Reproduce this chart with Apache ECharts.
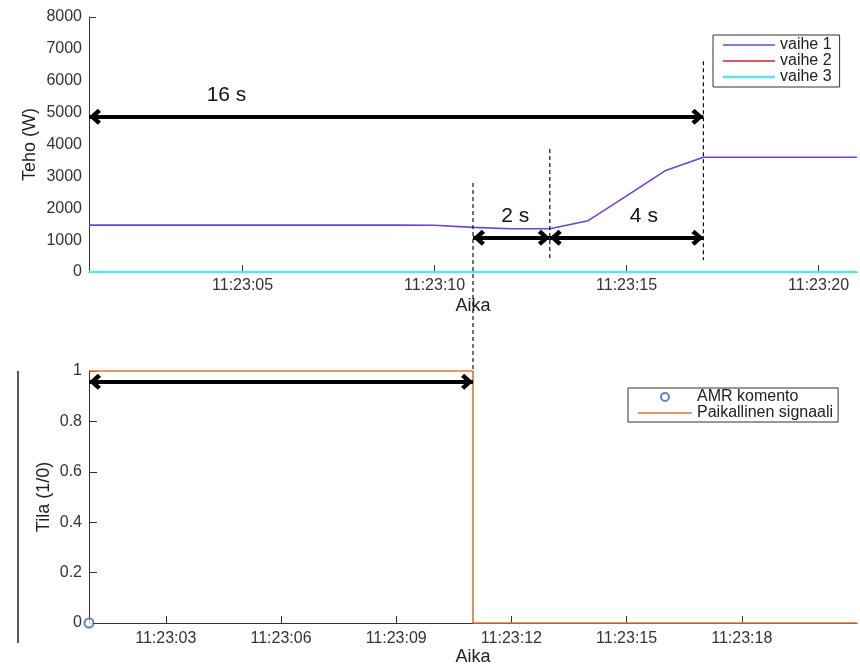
<!DOCTYPE html>
<html>
<head>
<meta charset="utf-8">
<script src="https://cdn.jsdelivr.net/npm/echarts@6/dist/echarts.min.js"></script>
<style>html,body{margin:0;padding:0;background:#fff}#c{width:860px;height:665px}</style>
</head>
<body>
<div id="c"></div>
<script>
// ---- data (time in seconds after 11:23:00) ----
const timeTop = [1,2,3,4,5,6,7,8,9,10,11,12,13,14,15,16,17,18,19,20,21];
const vaihe1 = [1470,1470,1470,1470,1470,1470,1470,1470,1470,1465,1400,1355,1355,1610,2390,3175,3600,3600,3600,3600,3600];
const vaihe2 = [0,0,0,0,0,0,0,0,0,0,0,0,0,0,0,0,0,0,0,0,0];
const vaihe3 = [0,0,0,0,0,0,0,0,0,0,0,0,0,0,0,0,0,0,0,0,0];
const topTickValues = [5,10,15,20];
const topTickLabels = ['11:23:05','11:23:10','11:23:15','11:23:20'];

const amrTime = [1];
const amrValue = [0];
const signalTime = [1,11,21];
const signalValue = [1,0,0];
const bottomTickValues = [3,6,9,12,15,18];
const bottomTickLabels = ['11:23:03','11:23:06','11:23:09','11:23:12','11:23:15','11:23:18'];

// annotations: [from t, to t, level]
const arrowsTop = [[1,17,4870],[11,13,1075],[13,17,1075]];
const arrowsBottom = [[1,11,0.957]];
// dashed markers: [t, from value, to value]
const dashedTop = [[11,2790,-3135],[13,3856,376],[17,6614,376]];
// text labels: [text, t, value]
const labelsTop = [['16 s',4.58,5549],['2 s',12.1,1755],['4 s',15.45,1755]];
const labelsBottom = [['10 s',3.56,1.044]];

const FONT = "'Liberation Sans', Arial, Helvetica, sans-serif";
const zip = (a,b) => a.map((v,i)=>[v,b[i]]);
const chevron = 'path://M5,0 L10,5.6 L8,7.6 L5,4 L2,7.6 L0,5.6 Z';
const arrowEnd = (t,v) => ({coord:[t,v], symbol:chevron, symbolSize:[16,12], symbolOffset:[0,6], symbolKeepAspect:false});
const arrowData = arr => arr.map(a => [arrowEnd(a[0],a[2]), arrowEnd(a[1],a[2])]);
const labelData = arr => arr.map(a => ({name:a[0], coord:[a[1],a[2]]}));
const lookup = (vals, labs) => v => { const i = vals.indexOf(Math.round(v)); return i >= 0 ? labs[i] : ''; };
const lineIcon = 'path://M0,0 L52,0 L52,1.5 L0,1.5 Z';
const thickIcon = 'path://M0,0 L52,0 L52,2.6 L0,2.6 Z';

const axisCol = '#333';
function xAxisCfg(gridIndex, ticks, labels, nameGap, margin) {
  return {
    type:'value', gridIndex, min:1, max:21,
    name:'Aika', nameLocation:'middle', nameGap, nameMoveOverlap:false,
    nameTextStyle:{fontFamily:FONT, fontSize:18, color:'#222'},
    axisLine:{show:true, lineStyle:{color:axisCol, width:1}},
    axisTick:{show:true, inside:true, length:7, customValues:ticks, lineStyle:{color:axisCol}},
    axisLabel:{customValues:ticks, formatter:lookup(ticks, labels), margin, fontFamily:FONT, fontSize:16, color:'#333'},
    splitLine:{show:false}
  };
}

const dashedSeries = dashedTop.map((d, i) => ({
  name:'dash' + i, type:'line', xAxisIndex:0, yAxisIndex:0,
  data:[[d[0], d[1]], [d[0], d[2]]],
  symbol:'none', silent:true, clip:false, z:4,
  lineStyle:{color:'#111', width:1.2, type:[4,3]}
}));

const chart = echarts.init(document.getElementById('c'));
chart.setOption({
  animation:false,
  backgroundColor:'#fff',
  grid:[
    {left:89, top:17, right:3, height:255, containLabel:false, outerBoundsMode:'none'},
    {left:89, top:371, right:3, height:252, containLabel:false, outerBoundsMode:'none'}
  ],
  legend:[
    {
      data:[{name:'vaihe 1', icon:lineIcon},{name:'vaihe 2', icon:lineIcon},{name:'vaihe 3', icon:thickIcon}],
      orient:'vertical', left:713, top:35,
      itemWidth:52, itemHeight:10, itemGap:0, padding:[2,8,2,10],
      borderColor:'#333', borderWidth:1, selectedMode:false,
      textStyle:{fontFamily:FONT, fontSize:16, color:'#222', lineHeight:16}
    },
    {
      data:[{name:'AMR komento', icon:'emptyCircle'},{name:'Paikallinen signaali', icon:lineIcon}],
      orient:'vertical', left:628, top:388,
      itemWidth:54, itemHeight:8, itemGap:0, padding:[1,5,1,10],
      borderColor:'#333', borderWidth:1, selectedMode:false,
      textStyle:{fontFamily:FONT, fontSize:16, color:'#222', lineHeight:16}
    }
  ],
  xAxis:[
    xAxisCfg(0, topTickValues, topTickLabels, 25, 6),
    xAxisCfg(1, bottomTickValues, bottomTickLabels, 25, 8)
  ],
  yAxis:[
    {
      type:'value', gridIndex:0, min:0, max:8000, interval:1000,
      name:'Teho (W)', nameLocation:'middle', nameGap:50, nameMoveOverlap:false,
      nameTextStyle:{fontFamily:FONT, fontSize:18, color:'#222'},
      axisLine:{show:true, lineStyle:{color:axisCol, width:1}},
      axisTick:{show:true, inside:true, length:7, customValues:[8000], lineStyle:{color:axisCol}},
      axisLabel:{margin:7, fontFamily:FONT, fontSize:16, color:'#333', formatter:v => String(v)},
      splitLine:{show:false}
    },
    {
      type:'value', gridIndex:1, min:0, max:1, interval:0.2,
      name:'Tila (1/0)', nameLocation:'middle', nameGap:36, nameMoveOverlap:false,
      nameTextStyle:{fontFamily:FONT, fontSize:18, color:'#222'},
      axisLine:{show:true, lineStyle:{color:axisCol, width:1}},
      axisTick:{show:true, inside:true, length:8, lineStyle:{color:axisCol}},
      axisLabel:{margin:7, fontFamily:FONT, fontSize:16, color:'#333'},
      splitLine:{show:false}
    }
  ],
  series:[
    {
      name:'vaihe 1', type:'line', xAxisIndex:0, yAxisIndex:0, data:zip(timeTop, vaihe1),
      symbol:'none', lineStyle:{color:'#7040d8', width:1.6}, itemStyle:{color:'#7040d8'}, clip:false,
      markLine:{
        silent:true, animation:false, label:{show:false},
        lineStyle:{color:'#000', width:4, type:'solid'},
        data:arrowData(arrowsTop)
      }
    },
    {
      name:'vaihe 2', type:'line', xAxisIndex:0, yAxisIndex:0, data:zip(timeTop, vaihe2),
      symbol:'none', lineStyle:{color:'#cc1f2f', width:1.6}, itemStyle:{color:'#cc1f2f'}, clip:false
    },
    {
      name:'vaihe 3', type:'line', xAxisIndex:0, yAxisIndex:0, data:zip(timeTop, vaihe3),
      symbol:'none', lineStyle:{color:'#5fe3e3', width:2.5}, itemStyle:{color:'#5fe3e3'}, clip:false,
      markPoint:{
        silent:true, animation:false, symbol:'circle', symbolSize:1,
        itemStyle:{color:'rgba(0,0,0,0)'},
        label:{show:true, position:'inside', formatter:'{b}', fontFamily:FONT, fontSize:21, color:'#111'},
        data:labelData(labelsTop)
      }
    },
    ...dashedSeries,
    {
      name:'Paikallinen signaali', type:'line', xAxisIndex:1, yAxisIndex:1, data:zip(signalTime, signalValue),
      step:'end', symbol:'none', lineStyle:{color:'#d8783c', width:1.6}, itemStyle:{color:'#d8783c'}, clip:false,
      markLine:{
        silent:true, animation:false, label:{show:false},
        lineStyle:{color:'#000', width:4, type:'solid'},
        data:arrowData(arrowsBottom)
      },
      markPoint:{
        silent:true, animation:false, symbol:'circle', symbolSize:1,
        itemStyle:{color:'rgba(0,0,0,0)'},
        label:{show:true, position:'inside', formatter:'{b}', fontFamily:FONT, fontSize:21, color:'#111'},
        data:labelData(labelsBottom)
      }
    },
    {
      name:'AMR komento', type:'scatter', xAxisIndex:1, yAxisIndex:1, data:zip(amrTime, amrValue),
      symbol:'emptyCircle', symbolSize:9, itemStyle:{color:'#4060c0', borderWidth:1.3}, clip:false, z:5
    }
  ],
  graphic:[
    {type:'line', shape:{x1:18, y1:371, x2:18, y2:643}, style:{stroke:'#222', lineWidth:1.5}, silent:true}
  ]
});
</script>
</body>
</html>
